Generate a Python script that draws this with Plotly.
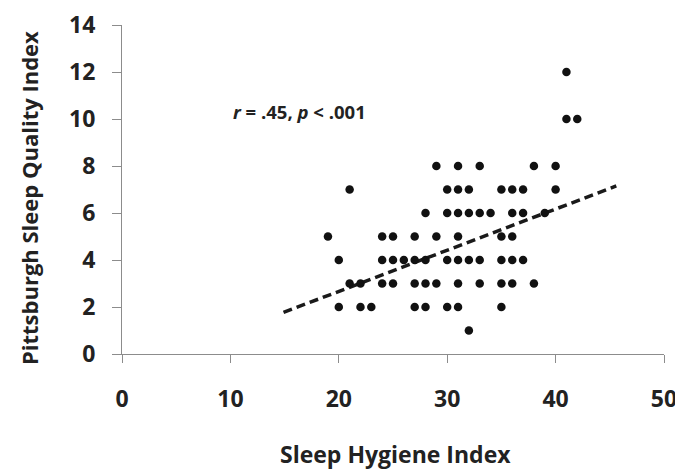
import plotly.graph_objects as go

# Sleep Hygiene Index (x) and Pittsburgh Sleep Quality Index (y), read row by row
shi = [41,
       41, 42,
       29, 31, 33, 38, 40,
       21, 30, 31, 32, 35, 36, 37, 40,
       28, 30, 31, 32, 33, 34, 36, 37, 39,
       19, 24, 25, 27, 29, 31, 35, 36,
       20, 24, 25, 26, 27, 28, 30, 31, 32, 33, 35, 36, 37,
       21, 22, 24, 25, 27, 28, 29, 31, 33, 35, 36, 38,
       20, 22, 23, 27, 28, 30, 31, 35,
       32]
psqi = [12,
        10, 10,
        8, 8, 8, 8, 8,
        7, 7, 7, 7, 7, 7, 7, 7,
        6, 6, 6, 6, 6, 6, 6, 6, 6,
        5, 5, 5, 5, 5, 5, 5, 5,
        4, 4, 4, 4, 4, 4, 4, 4, 4, 4, 4, 4, 4,
        3, 3, 3, 3, 3, 3, 3, 3, 3, 3, 3, 3,
        2, 2, 2, 2, 2, 2, 2, 2,
        1]

trend_x = [14.9, 45.6]
trend_y = [1.77, 7.15]

x_ticks = [0, 10, 20, 30, 40, 50]
y_ticks = [0, 2, 4, 6, 8, 10, 12, 14]

FONT = "Open Sans"
TXT = "#222222"

fig = go.Figure()
fig.add_trace(go.Scatter(x=trend_x, y=trend_y, mode="lines",
                         line=dict(color="#1a1a1a", width=3.5, dash="9px,5px"),
                         hoverinfo="skip", showlegend=False))
fig.add_trace(go.Scatter(x=shi, y=psqi, mode="markers",
                         marker=dict(color="#111111", size=8.5),
                         showlegend=False))

fig.add_annotation(x=10.1, y=10.3, xref="x", yref="y", xanchor="left", yanchor="middle",
                   text="<i>r</i> = .45, <i>p</i> < .001", showarrow=False,
                   font=dict(family=FONT, size=18.5, color=TXT, weight="bold"))

# axis titles
fig.add_annotation(x=0.505, y=0, xref="paper", yref="paper", xanchor="center", yanchor="middle",
                   yshift=-100, text="Sleep Hygiene Index", showarrow=False,
                   font=dict(family=FONT, size=23, color=TXT, weight="bold"))
fig.add_annotation(x=0, y=0.474, xref="paper", yref="paper", xanchor="center", yanchor="middle",
                   xshift=-93, textangle=-90, text="Pittsburgh Sleep Quality Index", showarrow=False,
                   font=dict(family=FONT, size=22, color=TXT, weight="bold"))

fig.update_layout(
    template="none",
    width=675, height=462,
    margin=dict(l=114, r=19, t=17, b=116),
    paper_bgcolor="white", plot_bgcolor="white",
    font=dict(family=FONT, color=TXT),
    xaxis=dict(range=[0, 50], tickvals=x_ticks, showgrid=False, zeroline=False,
               automargin=False, ticklabeloverflow="allow",
               showline=True, linecolor="#8c8c8c", linewidth=1,
               ticks="outside", ticklen=8, tickcolor="#8c8c8c",
               ticklabelstandoff=16,
               tickfont=dict(family=FONT, size=23, color=TXT, weight="bold")),
    yaxis=dict(range=[0, 14], tickvals=y_ticks, showgrid=False, zeroline=False,
               automargin=False, ticklabeloverflow="allow",
               showline=True, linecolor="#8c8c8c", linewidth=1,
               ticks="outside", ticklen=9, tickcolor="#8c8c8c",
               ticklabelstandoff=12,
               tickfont=dict(family=FONT, size=23, color=TXT, weight="bold")),
)

fig.write_html("out.html")
